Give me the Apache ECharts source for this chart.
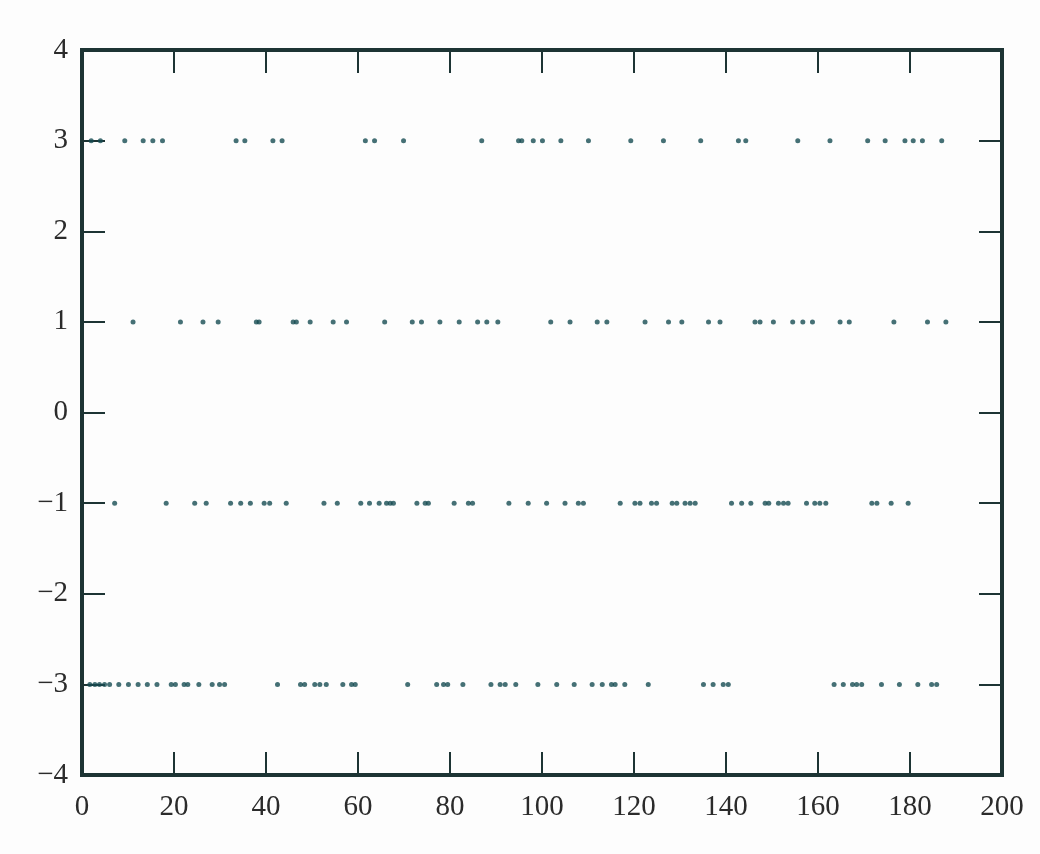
<!DOCTYPE html>
<html>
<head>
<meta charset="utf-8">
<script src="https://cdn.jsdelivr.net/npm/echarts@6/dist/echarts.min.js"></script>
<style>
  html, body { margin: 0; padding: 0; background: #fff; }
  #chart { width: 1040px; height: 854px; }
</style>
</head>
<body>
<div id="chart"></div>
<script>
// x positions of the dots on each level
var levels = [3, 1, -1, -3];
var xsLevel3 = [2, 4, 9.3, 13.3, 15.4, 17.5, 33.5, 35.4, 41.5, 43.5, 61.6, 63.6, 69.9,
  86.9, 94.9, 95.6, 98.1, 100.1, 104.1, 110.1, 119.3, 126.4, 134.5, 142.7, 144.3,
  155.6, 162.6, 170.8, 174.6, 178.9, 180.7, 182.7, 186.9];
var xsLevel1 = [11.1, 21.4, 26.3, 29.6, 37.9, 38.5, 45.9, 46.6, 49.6, 54.6, 57.5, 65.8,
  71.8, 73.8, 77.8, 82.0, 86.0, 88.0, 90.4, 101.9, 106.1, 112.0, 114.1, 122.4, 127.5,
  130.4, 136.2, 138.7, 146.3, 147.4, 150.3, 154.5, 156.7, 158.8, 164.8, 166.8, 176.5,
  183.8, 187.8];
var xsLevelM1 = [7.1, 18.3, 24.5, 27.0, 32.3, 34.5, 36.6, 39.6, 40.8, 44.4, 52.6, 55.5,
  60.6, 62.5, 64.6, 66.2, 67.0, 67.7, 72.8, 74.6, 75.3, 80.9, 84.0, 84.9, 92.8, 97.0,
  101.0, 105.0, 107.9, 109.0, 117.0, 120.2, 121.3, 123.8, 124.9, 128.3, 129.3, 131.1,
  132.2, 133.3, 141.2, 143.4, 145.4, 148.5, 149.3, 151.4, 152.5, 153.5, 157.5, 159.3,
  160.4, 161.7, 171.7, 172.8, 175.9, 179.6];
var xsLevelM3 = [1.7, 2.8, 3.8, 4.9, 6.0, 8.0, 10.1, 12.2, 14.2, 16.3, 19.4, 20.3, 22.2,
  23.0, 25.4, 28.3, 29.9, 31.0, 42.5, 47.5, 48.4, 50.6, 51.7, 53.1, 56.7, 58.6, 59.4,
  70.8, 77.1, 78.6, 79.5, 82.8, 88.9, 90.9, 92.0, 94.3, 99.1, 103.2, 107.0, 110.9,
  113.1, 115.1, 115.9, 118.0, 123.1, 135.1, 137.2, 139.4, 140.5, 163.5, 165.5, 167.5,
  168.4, 169.5, 173.8, 177.7, 181.7, 184.7, 185.8];
var xTicks = [0, 20, 40, 60, 80, 100, 120, 140, 160, 180, 200];
var yTicks = [-4, -3, -2, -1, 0, 1, 2, 3, 4];

var allXs = [xsLevel3, xsLevel1, xsLevelM1, xsLevelM3];
var points = [];
allXs.forEach(function (xs, i) {
  xs.forEach(function (x) { points.push([x, levels[i]]); });
});

var frameColor = '#1d3434';
var labelStyle = {
  fontFamily: '"Liberation Serif", "DejaVu Serif", serif',
  fontSize: 29,
  color: '#2b2b2b'
};
function minus(v) { return String(v).replace('-', '\u2212'); }

function axis(kind, pos, withLabels) {
  var a = {
    type: 'value',
    position: pos,
    axisLine: { show: false, onZero: false },
    axisTick: { inside: true, length: 23, lineStyle: { color: frameColor, width: 2 } },
    splitLine: { show: false },
    axisLabel: withLabels
      ? Object.assign({ margin: kind === 'x' ? 18 : 14, formatter: minus }, labelStyle)
      : { show: false }
  };
  if (kind === 'x') { a.min = xTicks[0]; a.max = xTicks[xTicks.length - 1]; a.interval = 20; }
  else { a.min = yTicks[0]; a.max = yTicks[yTicks.length - 1]; a.interval = 1; }
  return a;
}

var chart = echarts.init(document.getElementById('chart'));
chart.setOption({
  backgroundColor: '#fdfdfd',
  animation: false,
  grid: {
    left: 82, right: 38, top: 50, bottom: 79,
    show: true, borderColor: frameColor, borderWidth: 4, backgroundColor: 'transparent'
  },
  xAxis: [axis('x', 'bottom', true), axis('x', 'top', false)],
  yAxis: [axis('y', 'left', true), axis('y', 'right', false)],
  series: [
    {
      type: 'scatter',
      xAxisIndex: 0,
      yAxisIndex: 0,
      symbol: 'circle',
      symbolSize: 5,
      itemStyle: { color: '#174c53' },
      data: points
    }
  ]
});
</script>
</body>
</html>
